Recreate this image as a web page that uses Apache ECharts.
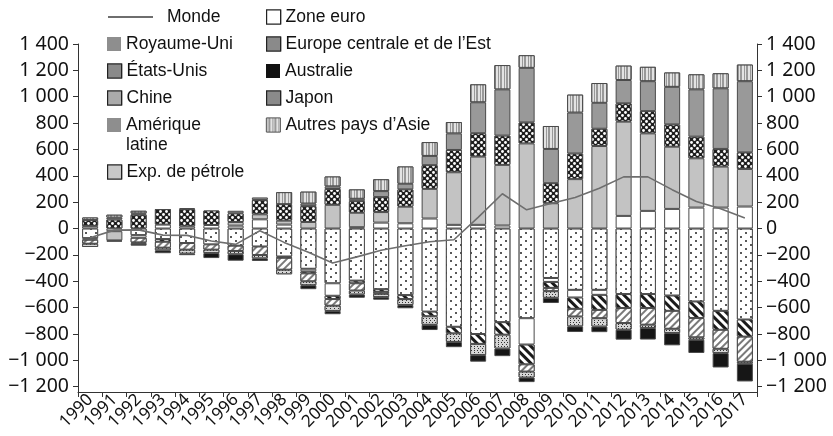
<!DOCTYPE html>
<html><head><meta charset="utf-8">
<script src="https://cdn.jsdelivr.net/npm/echarts@6/dist/echarts.min.js"></script>
<style>html,body{margin:0;padding:0;background:#fff}#c{width:833px;height:436px}</style>
</head><body><div id="c"></div>
<script>
// Soldes des balances courantes (milliards de dollars), 1990-2017
const years = ['1990','1991','1992','1993','1994','1995','1996','1997','1998','1999','2000','2001','2002','2003','2004','2005','2006','2007','2008','2009','2010','2011','2012','2013','2014','2015','2016','2017'];
const monde          = [-70, -12, -10, -50, -52, -95, -120, -17, -105, -180, -262, -215, -165, -130, -100, -85, 85, 264, 142, 190, 236, 305, 392, 392, 295, 205, 150, 80];
const etatsUnis      = [-73, 0, -50, -80, -110, -120, -130, -136, -212, -305, -415, -395, -460, -505, -630, -745, -800, -710, -680, -375, -465, -465, -497, -497, -508, -553, -624, -690];
const zoneEuro       = [-12, -20, -20, 30, 17, 27, 22, 70, 30, -20, -95, 10, 45, 40, 76, 28, 28, 23, -200, -30, -58, -38, 96, 134, 149, 159, 159, 167];
const expPetrole     = [20, -70, 0, 0, 0, 0, 28, 38, 30, 50, 180, 110, 80, 126, 225, 399, 518, 460, 646, 192, 375, 626, 715, 588, 472, 374, 311, 285];
const japon          = [44, 68, 105, 118, 130, 110, 65, 108, 125, 120, 120, 88, 114, 131, 180, 169, 177, 222, 159, 152, 194, 131, 139, 169, 169, 164, 134, 126];
const chine          = [0, 15, 10, 0, 8, 0, 20, 20, 0, 20, 20, 18, 45, 43, 70, 126, 235, 351, 414, 260, 311, 197, 177, 227, 285, 359, 460, 540];
const autresAsie     = [20, 22, 20, 0, 0, 0, 0, 0, 91, 90, 75, 71, 90, 131, 105, 86, 136, 184, 96, 174, 136, 150, 109, 109, 109, 114, 114, 126];
const royaumeUni     = [0, 0, 0, -20, 0, 0, 0, 0, -10, -15, -25, -20, -20, -30, -35, -50, -75, -95, -150, -45, -86, -114, -106, -106, -116, -126, -144, -130];
const ameriqueLatine = [-30, -8, -35, -45, -50, -40, -40, -65, -90, -60, -50, -55, -15, 0, 0, 0, 0, 0, -55, -25, -58, -63, -114, -126, -136, -146, -144, -190];
const europeCentrale = [-25, 0, -10, -20, -30, -26, -25, -25, -35, -30, -40, -30, -25, -45, -65, -65, -85, -105, -45, -50, -75, -63, -50, -25, -33, -18, -33, -15];
const australie      = [0, 0, -15, -22, -12, -38, -49, -20, 0, -30, -25, -25, -20, -25, -40, -40, -50, -58, -35, -40, -43, -43, -76, -88, -93, -101, -109, -135];
const yTicks = [-1200, -1000, -800, -600, -400, -200, 0, 200, 400, 600, 800, 1000, 1200, 1400];

const FONT = 'Liberation Sans';
const AXISFONT = 'Noto Sans';

function fmt(v) {
  const a = Math.abs(v);
  const s = a >= 1000 ? Math.floor(a / 1000) + ' ' + String(a % 1000).padStart(3, '0') : String(a);
  return (v < 0 ? '\u2212' : '') + s;
}
const solid = c => ({ symbol: 'rect', color: c, backgroundColor: c, dashArrayX: [1, 0], dashArrayY: [1, 0] });

// fills / motifs of each group
const styles = {
  'États-Unis': { color: '#fff', decal: { symbol: 'circle', symbolSize: 1, color: '#222', backgroundColor: '#fff', dashArrayX: [[1.7, 7.3], [0, 4.5, 1.7, 2.8]], dashArrayY: [1.7, 2.0] } },
  'Zone euro': { color: '#fff' },
  'Exp. de pétrole': { color: '#c3c3c3' },
  'Japon': { color: '#1e1e1e', decal: { symbol: 'circle', symbolSize: 0.95, color: '#fff', backgroundColor: '#1e1e1e', dashArrayX: [[2.7, 2.7], [0, 2.7, 2.7, 0]], dashArrayY: [2.7, 0] } },
  'Chine': { color: '#999' },
  'Autres pays d’Asie': { color: '#e0e0e0', decal: { symbol: 'rect', color: '#999', backgroundColor: '#e3e3e3', dashArrayX: [1, 1, 1.4, 1.6], dashArrayY: [1, 0] } },
  'Royaume-Uni': { color: '#fff', decal: { symbol: 'rect', color: '#1a1a1a', backgroundColor: '#fff', dashArrayX: [1, 0], dashArrayY: [2.4, 2.2], rotation: Math.PI / 4 } },
  'Amérique latine': { color: '#fff', decal: { symbol: 'rect', color: '#7a7a7a', backgroundColor: '#fff', dashArrayX: [1, 0], dashArrayY: [1.4, 2.2], rotation: -Math.PI / 4 } },
  'Europe centrale et de l’Est': { color: '#ccc', decal: { symbol: 'rect', color: '#333', backgroundColor: '#d6d6d6', dashArrayX: [[1, 1.8], [0, 1.4, 1, 0.4]], dashArrayY: [1, 0.7] } },
  'Australie': { color: '#161616' }
};

// stacking order: closest to zero first, positives and negatives stacked separately
const barDefs = [
  ['États-Unis', etatsUnis],
  ['Zone euro', zoneEuro],
  ['Exp. de pétrole', expPetrole],
  ['Japon', japon],
  ['Chine', chine],
  ['Autres pays d’Asie', autresAsie],
  ['Royaume-Uni', royaumeUni],
  ['Amérique latine', ameriqueLatine],
  ['Europe centrale et de l’Est', europeCentrale],
  ['Australie', australie]
];

const series = barDefs.map(([name, vals]) => ({
  name, type: 'bar', stack: 'cab', barWidth: 16,
  data: vals.map(v => (v === 0 ? '-' : v)),
  itemStyle: Object.assign({ borderColor: '#4a4a4a', borderWidth: 1 }, styles[name]),
  emphasis: { disabled: true }
}));
series.push({
  name: 'Monde', type: 'line', data: monde, symbol: 'none', z: 10,
  lineStyle: { color: '#6e6e6e', width: 1.6 }, itemStyle: { color: '#6e6e6e' }
});

// legend swatches
const swatches = {
  'Royaume-Uni': { c: '#8e8e8e', b: 0 },
  'États-Unis': { c: '#8a8a8a', b: 1.2 },
  'Chine': { c: '#aaaaaa', b: 1.2 },
  'Amérique latine': { c: '#8e8e8e', b: 0 },
  'Exp. de pétrole': { c: '#c8c8c8', b: 1.2 },
  'Zone euro': { c: '#ffffff', b: 1.2 },
  'Europe centrale et de l’Est': { c: '#8a8a8a', b: 1.2 },
  'Australie': { c: '#111111', b: 0 },
  'Japon': { c: '#8a8a8a', b: 1.2 }
};
const legendText = { fontSize: 17.5, fontFamily: FONT, color: '#111', lineHeight: 18 };
function legendItem(name, left, cy) {
  const sw = swatches[name];
  const data = sw
    ? [{ name, icon: 'rect', itemStyle: { color: sw.c, borderColor: '#222', borderWidth: sw.b, decal: solid(sw.c) } }]
    : [{ name, icon: 'rect', itemStyle: { borderColor: '#555', borderWidth: 0.8 } }];
  return {
    data, left, top: cy - 9, orient: 'vertical', padding: 0, itemWidth: 14, itemHeight: 14,
    textStyle: legendText, selectedMode: false,
    formatter: n => (n === 'Amérique latine' ? 'Amérique' : n)
  };
}
const legends = [
  { data: [{ name: 'Monde', icon: 'rect' }], left: 108, top: 8, padding: 0, itemWidth: 45, itemHeight: 2,
    textStyle: Object.assign({}, legendText, { padding: [0, 0, 0, 9] }), selectedMode: false },
  legendItem('Royaume-Uni', 107, 44),
  legendItem('États-Unis', 107, 71),
  legendItem('Chine', 107, 98),
  legendItem('Amérique latine', 107, 125),
  legendItem('Exp. de pétrole', 107, 172),
  legendItem('Zone euro', 266, 17),
  legendItem('Europe centrale et de l’Est', 266, 44),
  legendItem('Australie', 266, 71),
  legendItem('Japon', 266, 98),
  legendItem('Autres pays d’Asie', 266, 125)
];

const yAxisBase = {
  type: 'value', min: -1240, max: 1400,
  splitLine: { show: false },
  axisLine: { show: true, lineStyle: { color: '#333', width: 1 } },
  axisTick: { show: true, length: 5, customValues: yTicks, lineStyle: { color: '#333' } },
  axisLabel: { customValues: yTicks, formatter: fmt, fontSize: 19.5, fontFamily: AXISFONT, color: '#111', margin: 9 }
};

const chart = echarts.init(document.getElementById('c'), null, { renderer: 'canvas' });
chart.setOption({
  animation: false,
  backgroundColor: '#fff',
  grid: { left: 78, right: 76, top: 44, bottom: 44, containLabel: false },
  legend: legends,
  xAxis: {
    type: 'category', data: years, position: 'bottom',
    axisLine: { onZero: false, lineStyle: { color: '#333', width: 1 } },
    axisTick: { show: true, length: 5, lineStyle: { color: '#333' } },
    axisLabel: { rotate: 45, fontSize: 17, fontFamily: AXISFONT, color: '#111', margin: 5, interval: 0 }
  },
  yAxis: [
    Object.assign({}, yAxisBase, { position: 'left' }),
    Object.assign({}, yAxisBase, { position: 'right' })
  ],
  graphic: [{ type: 'text', left: 126, top: 136, style: { text: 'latine', fontSize: 17.5, fontFamily: FONT, fill: '#111' } }],
  series
});
</script>
</body></html>
